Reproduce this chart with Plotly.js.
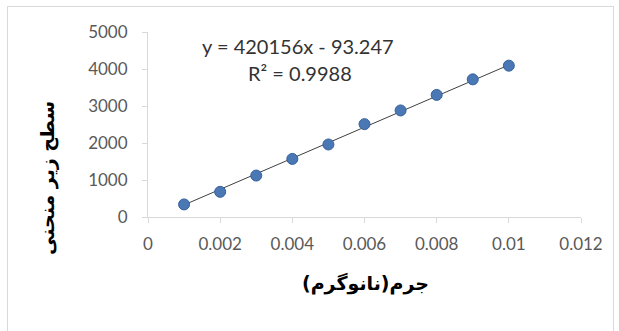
<!DOCTYPE html>
<html>
<head>
<meta charset="utf-8">
<script src="https://cdn.plot.ly/plotly-3.0.1.min.js"></script>
<style>
  html, body { margin: 0; padding: 0; background: #ffffff; }
  #wrap { position: relative; width: 619px; height: 331px; }
  #chart { width: 619px; height: 331px; }
  #frame { position: absolute; left: 7px; top: 6px; width: 607px; height: 330px;
           border: 1px solid #d9d9d9; box-sizing: border-box; pointer-events: none; }
</style>
</head>
<body>
<div id="wrap">
  <div id="chart"></div>
  <div id="frame"></div>
</div>
<script>
// Data
const mass = [0.001, 0.002, 0.003, 0.004, 0.005, 0.006, 0.007, 0.008, 0.009, 0.01];
const area = [340, 680, 1120, 1570, 1960, 2510, 2880, 3300, 3720, 4090];

// Linear trendline as printed on the chart
const slope = 420156;
const intercept = -93.247;
const rSquared = 0.9988;
const trendX = [0.001, 0.01];
const trendY = trendX.map(x => slope * x + intercept);

const xTicks = [0, 0.002, 0.004, 0.006, 0.008, 0.01, 0.012];
const xTickText = ['0', '0.002', '0.004', '0.006', '0.008', '0.01', '0.012'];
const yTicks = [0, 1000, 2000, 3000, 4000, 5000];
const yTickText = ['0', '1000', '2000', '3000', '4000', '5000'];

const xTitle = 'جرم(نانوگرم)';
const yTitle = 'سطح زیر منحنی';

const tickFont = { family: 'Lato, "Open Sans", sans-serif', size: 17, color: '#595959' };

const traces = [
  {
    x: trendX, y: trendY, type: 'scatter', mode: 'lines',
    line: { color: '#404040', width: 1 }, hoverinfo: 'skip', showlegend: false
  },
  {
    x: mass, y: area, type: 'scatter', mode: 'markers',
    marker: { size: 11, color: '#4a78b4', line: { color: '#35609c', width: 1 } },
    showlegend: false
  }
];

// plot area: x 148..581 px, y 32..217 px
const px = v => (v - 148) / 433;
const py = v => (217 - v) / 185;

const layout = {
  width: 619, height: 331,
  margin: { l: 148, r: 38, t: 32, b: 114 },
  paper_bgcolor: '#ffffff', plot_bgcolor: '#ffffff',
  showlegend: false,
  xaxis: {
    range: [0, 0.012], tickvals: xTicks, ticktext: xTickText,
    showgrid: false, zeroline: false,
    showline: true, linecolor: '#d9d9d9', linewidth: 1,
    ticks: 'outside', ticklen: 5, tickcolor: '#d9d9d9',
    tickfont: tickFont, ticklabelstandoff: 7
  },
  yaxis: {
    range: [0, 5000], tickvals: yTicks, ticktext: yTickText,
    showgrid: false, zeroline: false,
    showline: true, linecolor: '#d9d9d9', linewidth: 1,
    ticks: 'outside', ticklen: 5, tickcolor: '#d9d9d9',
    tickfont: tickFont, ticklabelstandoff: 11
  },
  annotations: [
    { text: 'y = ' + slope + 'x - ' + Math.abs(intercept), xref: 'paper', yref: 'paper',
      x: px(298), y: py(46), xanchor: 'center', yanchor: 'middle', showarrow: false,
      font: { family: 'Lato, "Open Sans", sans-serif', size: 20, color: '#333333' } },
    { text: 'R² = ' + rSquared, xref: 'paper', yref: 'paper',
      x: px(300), y: py(73), xanchor: 'center', yanchor: 'middle', showarrow: false,
      font: { family: 'Lato, "Open Sans", sans-serif', size: 20, color: '#333333' } },
    { text: '<b>' + xTitle + '</b>', xref: 'paper', yref: 'paper',
      x: px(365), y: py(283), xanchor: 'center', yanchor: 'middle', showarrow: false,
      font: { family: '"DejaVu Sans", sans-serif', size: 19, color: '#000000' } },
    { text: '<b>' + yTitle + '</b>', xref: 'paper', yref: 'paper', textangle: -90,
      x: px(47), y: py(178), xanchor: 'center', yanchor: 'middle', showarrow: false,
      font: { family: '"DejaVu Sans", sans-serif', size: 19, color: '#000000' } }
  ]
};

Plotly.newPlot('chart', traces, layout, { staticPlot: true, displayModeBar: false });
</script>
</body>
</html>
